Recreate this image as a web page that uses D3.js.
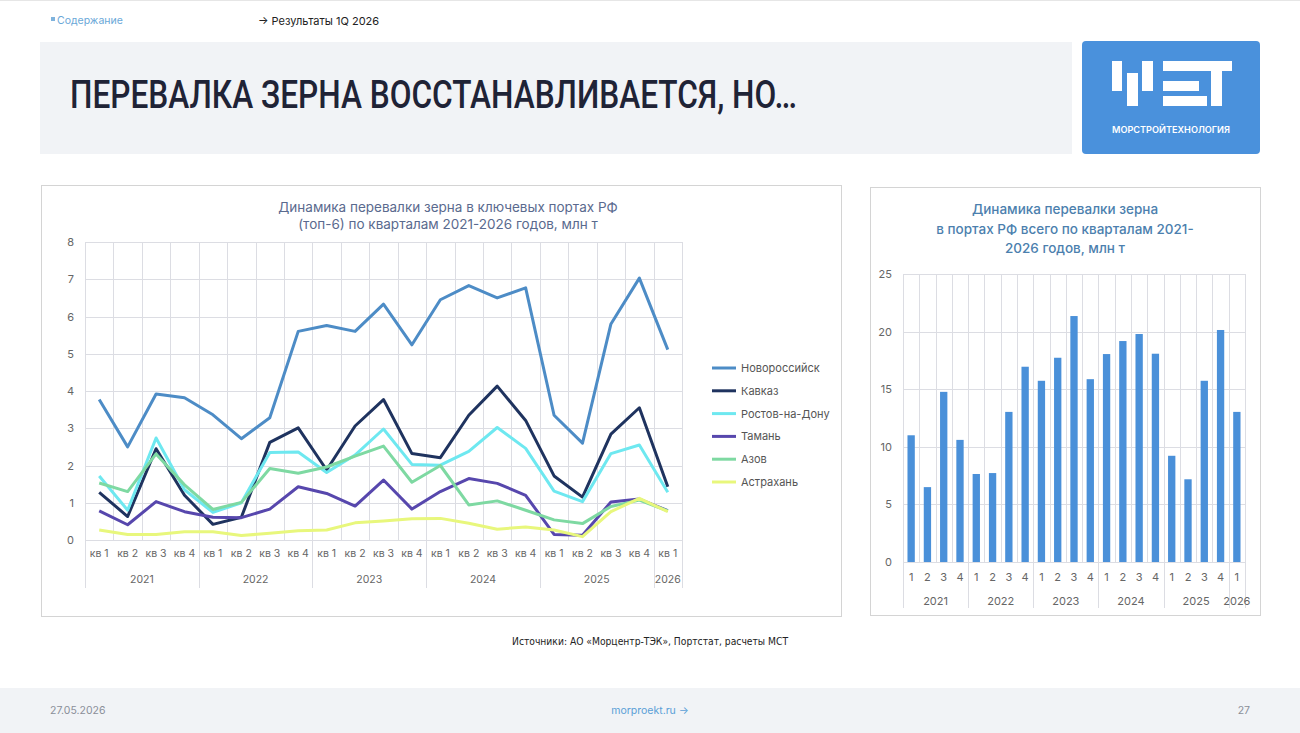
<!DOCTYPE html>
<html>
<head>
<meta charset="utf-8">
<title>Перевалка зерна</title>
<script src="https://d3js.org/d3.v7.min.js"></script>
<style>
body { margin: 0; background: #fff; }
svg { display: block; font-family: Inter, "Noto Sans", sans-serif; }
</style>
</head>
<body>
<script>
// Категории: кварталы 2021 - 1кв 2026
var years = ["2021", "2022", "2023", "2024", "2025", "2026"];
var quarters = [1, 2, 3, 4];
var nCat = 21;

// Перевалка по портам, млн т
var ports = ["Новороссийск", "Кавказ", "Ростов-на-Дону", "Тамань", "Азов", "Астрахань"];
var novorossiysk = [3.77, 2.5, 3.92, 3.82, 3.36, 2.72, 3.28, 5.6, 5.76, 5.6, 6.33, 5.24, 6.45, 6.83, 6.5, 6.77, 3.35, 2.6, 5.8, 7.03, 5.11];
var kavkaz = [1.28, 0.63, 2.45, 1.2, 0.42, 0.61, 2.62, 3.01, 1.88, 3.06, 3.77, 2.32, 2.21, 3.35, 4.13, 3.21, 1.72, 1.15, 2.84, 3.55, 1.43];
var rostov = [1.72, 0.8, 2.74, 1.35, 0.74, 1.0, 2.35, 2.36, 1.81, 2.28, 2.98, 2.03, 2.01, 2.38, 3.02, 2.46, 1.31, 1.03, 2.32, 2.55, 1.28];
var taman = [0.78, 0.41, 1.03, 0.76, 0.61, 0.6, 0.83, 1.43, 1.25, 0.91, 1.61, 0.83, 1.3, 1.65, 1.52, 1.2, 0.15, 0.13, 1.02, 1.1, 0.79];
var azov = [1.53, 1.3, 2.31, 1.48, 0.82, 1.01, 1.92, 1.79, 1.96, 2.25, 2.52, 1.55, 2.0, 0.94, 1.05, 0.8, 0.54, 0.44, 0.9, 1.07, 0.78];
var astrakhan = [0.27, 0.15, 0.15, 0.22, 0.22, 0.12, 0.18, 0.25, 0.27, 0.46, 0.51, 0.57, 0.58, 0.45, 0.29, 0.35, 0.27, 0.09, 0.76, 1.12, 0.76];
var portValues = [novorossiysk, kavkaz, rostov, taman, azov, astrakhan];

// Перевалка всего по портам РФ, млн т
var totals = [11.0, 6.5, 14.77, 10.6, 7.64, 7.72, 13.03, 16.95, 15.73, 17.73, 21.35, 15.87, 18.05, 19.18, 19.79, 18.08, 9.22, 7.18, 15.73, 20.14, 13.03];

var yTicksLeft = [0, 1, 2, 3, 4, 5, 6, 7, 8];
var yTicksRight = [0, 5, 10, 15, 20, 25];

var portColor = d3.scaleOrdinal()
    .domain(ports)
    .range(["#4d8cc6", "#1f335f", "#6ee8f0", "#5747ad", "#7ed9a2", "#e8f77c"]);

var cats = d3.range(nCat).map(function(i) {
    return { i: i, year: years[Math.floor(i / 4)], q: quarters[i % 4] };
});

var svg = d3.select("body").append("svg")
    .attr("width", 1300)
    .attr("height", 733);

// ---- шапка ----
svg.append("rect").attr("x", 0).attr("y", 0).attr("width", 1300).attr("height", 1).attr("fill", "#e6e6e6");
svg.append("rect").attr("x", 51).attr("y", 17).attr("width", 4).attr("height", 4).attr("fill", "#7fb3dd");
svg.append("text").attr("x", 57).attr("y", 23.5).attr("font-size", 10.5).attr("fill", "#6aa8d8").text("Содержание");
svg.append("text").attr("x", 258).attr("y", 25).attr("font-size", 11).attr("fill", "#222").text("→  Результаты 1Q 2026");

svg.append("rect").attr("x", 40).attr("y", 42).attr("width", 1032).attr("height", 112).attr("fill", "#f1f3f6");
svg.append("text")
    .attr("x", 70).attr("y", 108)
    .attr("font-family", "Roboto, 'DejaVu Sans Condensed', sans-serif")
    .attr("font-weight", 500)
    .attr("font-size", 38)
    .attr("fill", "#1f2336")
    .attr("textLength", 727)
    .attr("lengthAdjust", "spacingAndGlyphs")
    .text("ПЕРЕВАЛКА ЗЕРНА ВОССТАНАВЛИВАЕТСЯ, НО…");

// логотип
var logo = svg.append("g").attr("transform", "translate(1082,41)");
logo.append("rect").attr("width", 178).attr("height", 113).attr("rx", 4).attr("fill", "#4a91dc");
var logoParts = [[30, 20, 10, 30], [45, 32, 11, 33], [60, 20, 11, 30], [81, 20, 44, 10], [81, 40, 36, 10], [81, 55, 44, 10], [112, 20, 38, 10], [129, 30, 11, 35]];
logo.selectAll("rect.part").data(logoParts).enter().append("rect")
    .attr("class", "part")
    .attr("x", function(d) { return d[0]; })
    .attr("y", function(d) { return d[1]; })
    .attr("width", function(d) { return d[2]; })
    .attr("height", function(d) { return d[3]; })
    .attr("fill", "#fff");
logo.append("text").attr("x", 89).attr("y", 92).attr("text-anchor", "middle")
    .attr("font-size", 8.5).attr("font-weight", 600).attr("fill", "#fff")
    .attr("textLength", 118).attr("lengthAdjust", "spacingAndGlyphs")
    .text("МОРСТРОЙТЕХНОЛОГИЯ");

// ---- левый график ----
var gridColor = "#dcdde3";
var tickColor = "#666";

svg.append("rect").attr("x", 41.5).attr("y", 185.5).attr("width", 800).attr("height", 431)
    .attr("fill", "#fff").attr("stroke", "#d4d4d4");

svg.append("text").attr("x", 448).attr("y", 212).attr("text-anchor", "middle")
    .attr("font-size", 13.5).attr("fill", "#5a6a8e").text("Динамика перевалки зерна в ключевых портах РФ");
svg.append("text").attr("x", 448).attr("y", 229).attr("text-anchor", "middle")
    .attr("font-size", 13.5).attr("fill", "#5a6a8e").text("(топ-6) по кварталам 2021-2026 годов, млн т");

var xL = d3.scaleBand().domain(d3.range(nCat)).range([85, 682]);
var yL = d3.scaleLinear().domain([0, 8]).range([540, 242]);

var gL = svg.append("g");
gL.selectAll("line.h").data(yTicksLeft).enter().append("line")
    .attr("x1", 85).attr("x2", 682)
    .attr("y1", function(d) { return Math.round(yL(d)) + 0.5; })
    .attr("y2", function(d) { return Math.round(yL(d)) + 0.5; })
    .attr("stroke", gridColor);
gL.selectAll("line.v").data(d3.range(nCat + 1)).enter().append("line")
    .attr("x1", function(d) { return Math.round(85 + d * xL.bandwidth()) + 0.5; })
    .attr("x2", function(d) { return Math.round(85 + d * xL.bandwidth()) + 0.5; })
    .attr("y1", 242)
    .attr("y2", function(d) { return (d % 4 === 0 || d === nCat) ? 588 : 540; })
    .attr("stroke", gridColor);

gL.append("g").attr("transform", "translate(85,0)")
    .call(d3.axisLeft(yL).tickValues(yTicksLeft).tickSize(0).tickPadding(11))
    .call(function(g) { g.select(".domain").remove(); })
    .selectAll("text").attr("font-size", 11).attr("fill", tickColor).attr("font-family", "Inter, sans-serif");

gL.append("g").attr("transform", "translate(0,540)")
    .call(d3.axisBottom(xL).tickSize(0).tickPadding(10).tickFormat(function(i) { return "кв " + cats[i].q; }))
    .call(function(g) { g.select(".domain").remove(); })
    .selectAll("text").attr("font-size", 10.5).attr("fill", tickColor).attr("font-family", "Inter, sans-serif");

gL.selectAll("text.year").data(years).enter().append("text")
    .attr("class", "year")
    .attr("x", function(d, k) {
        var first = k * 4, last = Math.min(k * 4 + 3, nCat - 1);
        return (xL(first) + xL(last) + xL.bandwidth()) / 2;
    })
    .attr("y", 583).attr("text-anchor", "middle")
    .attr("font-size", 10.5).attr("fill", tickColor)
    .text(function(d) { return d; });

var line = d3.line()
    .x(function(v, i) { return xL(i) + xL.bandwidth() / 2; })
    .y(function(v) { return yL(v); });

gL.selectAll("path.port").data(portValues).enter().append("path")
    .attr("class", "port")
    .attr("d", line)
    .attr("fill", "none")
    .attr("stroke", function(d, k) { return portColor(ports[k]); })
    .attr("stroke-width", 3)
    .attr("stroke-linejoin", "round");

var legend = gL.selectAll("g.leg").data(ports).enter().append("g")
    .attr("class", "leg")
    .attr("transform", function(d, k) { return "translate(712," + (368 + k * 22.8) + ")"; });
legend.append("line").attr("x1", 0).attr("x2", 24).attr("stroke-width", 3)
    .attr("stroke", function(d) { return portColor(d); });
legend.append("text").attr("x", 29).attr("y", 4).attr("font-size", 11).attr("fill", "#555")
    .text(function(d) { return d; });

// ---- правый график ----
svg.append("rect").attr("x", 870.5).attr("y", 187.5).attr("width", 390).attr("height", 428)
    .attr("fill", "#fff").attr("stroke", "#d4d4d4");

var rTitle = ["Динамика перевалки зерна", "в портах РФ всего по кварталам 2021-", "2026 годов, млн т"];
svg.selectAll("text.rtitle").data(rTitle).enter().append("text")
    .attr("class", "rtitle")
    .attr("x", 1065).attr("y", function(d, k) { return 214 + k * 19.5; })
    .attr("text-anchor", "middle").attr("font-size", 13.5).attr("font-weight", 500)
    .attr("fill", "#4c7fae").text(function(d) { return d; });

var xR = d3.scaleBand().domain(d3.range(nCat)).range([903, 1245]);
var yR = d3.scaleLinear().domain([0, 25]).range([562, 274]);

var gR = svg.append("g");
gR.selectAll("line.h").data(yTicksRight).enter().append("line")
    .attr("x1", 903).attr("x2", 1245)
    .attr("y1", function(d) { return Math.round(yR(d)) + 0.5; })
    .attr("y2", function(d) { return Math.round(yR(d)) + 0.5; })
    .attr("stroke", gridColor);
gR.selectAll("line.v").data(d3.range(nCat + 1)).enter().append("line")
    .attr("x1", function(d) { return Math.round(903 + d * xR.bandwidth()) + 0.5; })
    .attr("x2", function(d) { return Math.round(903 + d * xR.bandwidth()) + 0.5; })
    .attr("y1", 274)
    .attr("y2", function(d) { return (d % 4 === 0 || d === nCat) ? 608 : 562; })
    .attr("stroke", gridColor);

gR.append("g").attr("transform", "translate(903,0)")
    .call(d3.axisLeft(yR).tickValues(yTicksRight).tickSize(0).tickPadding(11))
    .call(function(g) { g.select(".domain").remove(); })
    .selectAll("text").attr("font-size", 11).attr("fill", tickColor).attr("font-family", "Inter, sans-serif");

var barW = xR.bandwidth() * 0.45;
gR.selectAll("rect.bar").data(totals).enter().append("rect")
    .attr("class", "bar")
    .attr("x", function(d, i) { return xR(i) + (xR.bandwidth() - barW) / 2; })
    .attr("y", function(d) { return yR(d); })
    .attr("width", barW)
    .attr("height", function(d) { return yR(0) - yR(d); })
    .attr("fill", "#4a90d9");

gR.append("g").attr("transform", "translate(0,562)")
    .call(d3.axisBottom(xR).tickSize(0).tickPadding(11).tickFormat(function(i) { return cats[i].q; }))
    .call(function(g) { g.select(".domain").remove(); })
    .selectAll("text").attr("font-size", 11).attr("fill", tickColor).attr("font-family", "Inter, sans-serif");

gR.selectAll("text.year").data(years).enter().append("text")
    .attr("class", "year")
    .attr("x", function(d, k) {
        var first = k * 4, last = Math.min(k * 4 + 3, nCat - 1);
        return (xR(first) + xR(last) + xR.bandwidth()) / 2;
    })
    .attr("y", 605).attr("text-anchor", "middle")
    .attr("font-size", 11).attr("fill", tickColor)
    .text(function(d) { return d; });

// ---- источники и подвал ----
svg.append("text").attr("x", 650).attr("y", 645).attr("text-anchor", "middle")
    .attr("font-family", "'DejaVu Sans Condensed', 'Liberation Sans Narrow', Roboto, sans-serif")
    .attr("font-size", 10).attr("fill", "#222")
    .attr("textLength", 276).attr("lengthAdjust", "spacingAndGlyphs")
    .text("Источники: АО «Морцентр-ТЭК», Портстат, расчеты МСТ");

svg.append("rect").attr("x", 0).attr("y", 688).attr("width", 1300).attr("height", 45).attr("fill", "#f1f3f6");
svg.append("text").attr("x", 50).attr("y", 714).attr("font-size", 10.5).attr("fill", "#8a8f99").text("27.05.2026");
svg.append("text").attr("x", 650).attr("y", 714).attr("text-anchor", "middle").attr("font-size", 10.5).attr("fill", "#5a9fd6").text("morproekt.ru →");
svg.append("text").attr("x", 1250).attr("y", 714).attr("text-anchor", "end").attr("font-size", 10.5).attr("fill", "#8a8f99").text("27");
</script>
</body>
</html>
